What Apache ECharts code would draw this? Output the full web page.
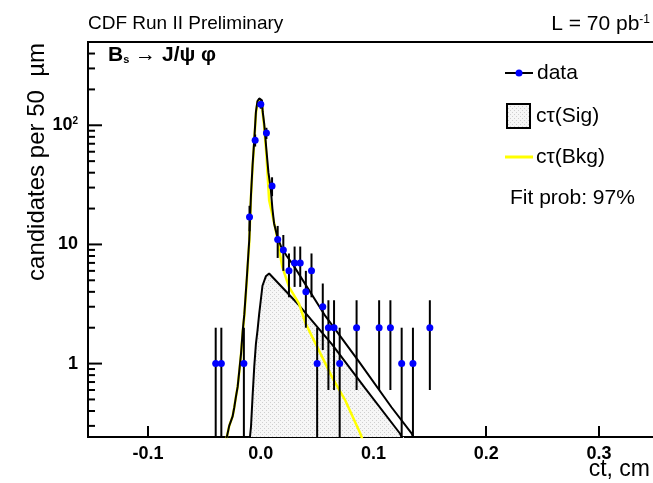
<!DOCTYPE html>
<html>
<head>
<meta charset="utf-8">
<script src="https://cdn.jsdelivr.net/npm/echarts@6/dist/echarts.min.js"></script>
<style>
  html, body { margin: 0; padding: 0; background: #fff; overflow: hidden; width: 653px; height: 483px; }
  /* the frame continues past the right border of the page, as in the original layout */
  #chart { width: 663px; height: 483px; }
</style>
</head>
<body>
<div id="chart"></div>
<script>
// Proper-time distribution, 50 um bins (ct in cm)
const binCenters = [-0.04, -0.035, -0.015, -0.01, -0.005, 0.0, 0.005, 0.01, 0.015, 0.02, 0.025, 0.03, 0.035,
                    0.04, 0.045, 0.05, 0.055, 0.06, 0.065, 0.07, 0.085, 0.105, 0.115, 0.125, 0.135, 0.15];
const counts     = [1, 1, 1, 17, 75, 150, 86, 31, 11, 9, 6, 7, 7,
                    4, 6, 1, 3, 2, 2, 1, 2, 2, 2, 1, 1, 2];
const countErrs  = [1, 1, 1, 4.1, 8.7, 12.2, 9.3, 5.6, 3.3, 3, 2.4, 2.6, 2.6,
                    2, 2.4, 1, 1.7, 1.4, 1.4, 1, 1.4, 1.4, 1.4, 1, 1, 1.4];

// Total fit projection
const totalX = [-0.032, -0.028, -0.025, -0.0235, -0.022, -0.0205, -0.019, -0.0175, -0.016, -0.0146, -0.0124,
                -0.0102, -0.0087, -0.0073, -0.0058, -0.0043, -0.0029, -0.0014, 0.001, 0.0017, 0.003, 0.005,
                0.0068, 0.0089, 0.0103, 0.0118, 0.0147, 0.018, 0.023, 0.028, 0.0574, 0.0868, 0.116, 0.1338, 0.137];
const totalY = [0.2, 0.3, 0.36, 0.43, 0.53, 0.64, 0.88, 1.22, 1.9, 2.6, 5.2,
                11, 26, 46, 75, 130, 160, 168, 162, 130, 104, 62,
                40, 29, 20, 15, 11.6, 9.6, 8.0, 6.9, 2.5, 1.05, 0.43, 0.26, 0.22];

// Signal component
const sigX = [-0.0105, -0.0087, -0.0073, -0.0058, -0.0043, -0.0029, -0.0014, 0.0, 0.0015, 0.0045, 0.0074,
              0.0338, 0.0632, 0.0927, 0.1235, 0.127];
const sigY = [0.2, 0.294, 0.525, 0.94, 1.47, 1.9, 2.63, 3.4, 4.5, 5.4, 5.7,
              3.1, 1.45, 0.62, 0.259, 0.22];

// Background component
const bkgX = [-0.032, -0.028, -0.025, -0.0235, -0.022, -0.0205, -0.019, -0.0175, -0.016, -0.0146, -0.0124,
              -0.0102, -0.0087, -0.0073, -0.0058, -0.0043, -0.0029, -0.0014, 0.001, 0.0017, 0.003, 0.005,
              0.0074, 0.0133, 0.0191, 0.025, 0.0339, 0.0398, 0.0486, 0.0632, 0.075, 0.0883, 0.091];
const bkgY = [0.2, 0.3, 0.36, 0.43, 0.53, 0.64, 0.87, 1.2, 1.85, 2.5, 5.0,
              10.5, 25, 44, 72, 126, 156, 164, 157, 125, 98, 56,
              23.5, 13.1, 6.47, 4.4, 3.19, 2.17, 1.47, 0.77, 0.49, 0.259, 0.22];

// Axis decoration
const xTickLabels = ['-0.1', '0.0', '0.1', '0.2', '0.3'];
const yMajorTicks = [1, 10, 100];
const yMinorTicks = [0.3, 0.4, 0.5, 0.6, 0.7, 0.8, 0.9, 2, 3, 4, 5, 6, 7, 8, 9,
                     20, 30, 40, 50, 60, 70, 80, 90, 200, 300, 400];

const X_MIN = -0.1533, X_MAX = 0.3542;
const Y_MIN = 0.242, Y_MAX = 500;
const HALF_BIN = 0.0025;
const FONT = '"Liberation Sans", Arial, Helvetica, sans-serif';
const GRID = { left: 88, right: 0, top: 42, bottom: 46 };

function zip(xs, ys) { return xs.map((x, i) => [x, ys[i]]); }

function dotPattern() {
  const c = document.createElement('canvas');
  c.width = 4; c.height = 4;
  const g = c.getContext('2d');
  g.fillStyle = '#f6f6f6'; g.fillRect(0, 0, 4, 4);
  g.fillStyle = '#cfcfcf'; g.fillRect(0, 0, 1, 1); g.fillRect(2, 2, 1, 1);
  return c;
}
const sigFill = { image: dotPattern(), repeat: 'repeat' };

const chart = echarts.init(document.getElementById('chart'), null, { renderer: 'canvas' });

function xLabel(v) {
  const k = Math.round(v * 10);
  if (Math.abs(v * 10 - k) > 1e-6) return '';
  const s = (k / 10).toFixed(1);
  return xTickLabels.indexOf(s) >= 0 ? s : '';
}
function yLabel(v) {
  for (const m of yMajorTicks) {
    if (Math.abs(v - m) < 1e-6 * m) {
      if (m === 100) return '{n|10}{s|2}';
      return '{n|' + m + '}';
    }
  }
  return '';
}

// short inward tick marks on the left frame edge, placed through the y scale
function tickSeries(name, values, len) {
  return {
    name: name, type: 'custom', z: 6, clip: false, silent: true,
    data: values.map(v => [X_MIN, v]),
    renderItem: function (params, api) {
      const p = api.coord([api.value(0), api.value(1)]);
      return { type: 'line', shape: { x1: p[0], y1: p[1], x2: p[0] + len, y2: p[1] }, style: { stroke: '#000', lineWidth: 2 } };
    }
  };
}

const option = {
  animation: false,
  backgroundColor: '#fff',
  grid: GRID,
  xAxis: [{
    type: 'value', min: X_MIN, max: X_MAX, position: 'bottom', splitNumber: 5,
    axisLine: { show: true, onZero: false, lineStyle: { color: '#000', width: 2 } },
    axisTick: { show: true, inside: true, length: 11, lineStyle: { color: '#000', width: 2 } },
    splitLine: { show: false },
    axisLabel: { interval: 0, formatter: xLabel, color: '#000', fontFamily: FONT, fontWeight: 'bold', fontSize: 18, margin: 8 }
  }, {
    type: 'value', min: X_MIN, max: X_MAX, position: 'top',
    axisLine: { show: true, onZero: false, lineStyle: { color: '#000', width: 2 } },
    axisTick: { show: false }, axisLabel: { show: false }, splitLine: { show: false }
  }],
  yAxis: {
    type: 'log', logBase: 10, min: Y_MIN, max: Y_MAX, position: 'left',
    axisLine: { show: true, onZero: false, lineStyle: { color: '#000', width: 2 } },
    axisTick: { show: false },
    minorTick: { show: false },
    splitLine: { show: false },
    axisLabel: {
      interval: 0, formatter: yLabel, margin: 10, color: '#000',
      rich: {
        n: { fontFamily: FONT, fontWeight: 'bold', fontSize: 18, color: '#000' },
        s: { fontFamily: FONT, fontWeight: 'bold', fontSize: 10, color: '#000', verticalAlign: 'top' }
      }
    }
  },
  series: [
    {
      name: 'sig', type: 'line', data: zip(sigX, sigY), showSymbol: false, z: 2,
      lineStyle: { color: '#000', width: 2 },
      areaStyle: { color: sigFill, opacity: 1, origin: 'start' }
    },
    {
      name: 'bkg', type: 'line', data: zip(bkgX, bkgY), showSymbol: false, z: 3,
      lineStyle: { color: '#ffff00', width: 2.5 }
    },
    {
      name: 'total', type: 'line', data: zip(totalX, totalY), showSymbol: false, z: 4,
      lineStyle: { color: '#000', width: 2 }
    },
    {
      name: 'data', type: 'custom', z: 5, clip: true,
      data: binCenters.map((x, i) => [x, counts[i], countErrs[i]]),
      renderItem: function (params, api) {
        const x = api.value(0), n = api.value(1), e = api.value(2);
        const top = api.coord([x, n + e]);
        const bot = api.coord([x, Math.max(n - e, Y_MIN * 0.5)]);
        const c = api.coord([x, n]);
        const l = api.coord([x - HALF_BIN, n]);
        const r = api.coord([x + HALF_BIN, n]);
        return {
          type: 'group',
          children: [
            { type: 'line', shape: { x1: top[0], y1: top[1], x2: bot[0], y2: bot[1] }, style: { stroke: '#000', lineWidth: 2 } },
            { type: 'line', shape: { x1: l[0], y1: l[1], x2: r[0], y2: r[1] }, style: { stroke: '#0000ff', lineWidth: 2 } },
            { type: 'circle', shape: { cx: c[0], cy: c[1], r: 3.5 }, style: { fill: '#0000ff' } }
          ]
        };
      }
    },
    tickSeries('majorTicks', yMajorTicks, 14),
    tickSeries('minorTicks', yMinorTicks, 7)
  ],
  graphic: [
    // left edge of the plotting frame
    { type: 'rect', z: 100, shape: { x: GRID.left - 1, y: GRID.top - 1, width: 2, height: 483 - GRID.top - GRID.bottom + 2 }, style: { fill: '#000' } },
    { type: 'text', x: 88, y: 24, style: { text: 'CDF Run II Preliminary', font: '19px ' + FONT, fill: '#000', align: 'left', verticalAlign: 'middle' } },
    { type: 'text', x: 650, y: 24, style: {
        text: '{m|L = 70 pb}{s|-1}', align: 'right', verticalAlign: 'middle',
        rich: { m: { font: '21px ' + FONT, fill: '#000' }, s: { font: '12px ' + FONT, fill: '#000', verticalAlign: 'top' } } } },
    { type: 'text', x: 108, y: 55, style: {
        text: '{b|B}{sub|s}{t| \u2192 J/\u03c8 \u03c6}', align: 'left', verticalAlign: 'middle',
        rich: {
          b: { font: 'bold 21px ' + FONT, fill: '#000' },
          sub: { font: 'bold 11px ' + FONT, fill: '#000', verticalAlign: 'bottom' },
          t: { font: 'bold 21px ' + FONT, fill: '#000' }
        } } },
    { type: 'text', x: 37, y: 43, rotation: Math.PI / 2, style: { text: 'candidates per 50  \u00b5m', font: '24px ' + FONT, fill: '#000', align: 'right', verticalAlign: 'middle' } },
    { type: 'text', x: 650, y: 470, style: { text: 'ct, cm', font: '23px ' + FONT, fill: '#000', align: 'right', verticalAlign: 'middle' } },
    // legend
    { type: 'line', shape: { x1: 505, y1: 73, x2: 533, y2: 73 }, style: { stroke: '#000', lineWidth: 2 } },
    { type: 'circle', shape: { cx: 519, cy: 73, r: 3.5 }, style: { fill: '#0000ff' } },
    { type: 'text', x: 537, y: 73, style: { text: 'data', font: '21px ' + FONT, fill: '#000', align: 'left', verticalAlign: 'middle' } },
    { type: 'rect', shape: { x: 507, y: 104, width: 23, height: 24 }, style: { fill: sigFill, stroke: '#000', lineWidth: 2 } },
    { type: 'text', x: 536, y: 116, style: { text: 'c\u03c4(Sig)', font: '21px ' + FONT, fill: '#000', align: 'left', verticalAlign: 'middle' } },
    { type: 'line', shape: { x1: 505, y1: 157, x2: 533, y2: 157 }, style: { stroke: '#ffff00', lineWidth: 3 } },
    { type: 'text', x: 536, y: 157, style: { text: 'c\u03c4(Bkg)', font: '21px ' + FONT, fill: '#000', align: 'left', verticalAlign: 'middle' } },
    { type: 'text', x: 510, y: 198, style: { text: 'Fit prob: 97%', font: '21px ' + FONT, fill: '#000', align: 'left', verticalAlign: 'middle' } }
  ]
};

chart.setOption(option);
</script>
</body>
</html>
